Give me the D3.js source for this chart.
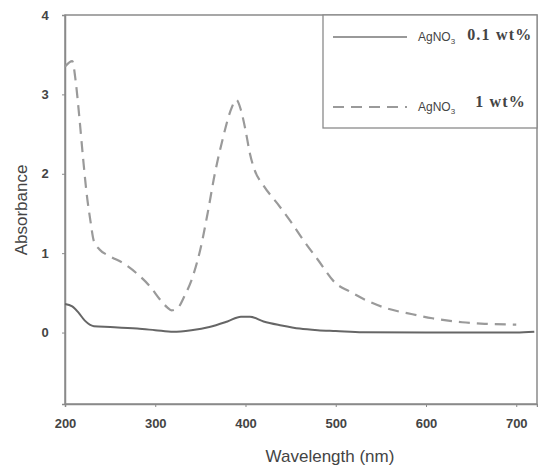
<!DOCTYPE html>
<html><head><meta charset="utf-8">
<script src="https://cdn.jsdelivr.net/npm/d3@7"></script>
<style>body{margin:0;background:#fff}svg{display:block}</style>
</head><body>
<svg id="c" width="538" height="470"></svg>
<script>
const wl01 = [200,208,215,222,232,250,280,300,320,340,360,380,395,405,420,440,460,480,500,530,600,700,720];
const abs01 = [0.36,0.33,0.25,0.15,0.08,0.07,0.05,0.03,0.01,0.03,0.07,0.14,0.2,0.2,0.14,0.09,0.05,0.03,0.02,0.005,0.0,0.0,0.01];
const wl1 = [200,208,212,216,220,224,228,232,238,250,265,280,295,305,313,318,325,332,342,350,358,366,375,383,390,395,400,405,410,420,435,450,465,480,500,515,535,555,585,607,640,665,700];
const abs1 = [3.35,3.42,3.15,2.7,2.2,1.75,1.42,1.15,1.05,0.96,0.87,0.74,0.57,0.42,0.32,0.28,0.31,0.45,0.72,1.05,1.5,2.0,2.45,2.78,2.93,2.8,2.55,2.25,2.05,1.85,1.63,1.4,1.15,0.92,0.62,0.52,0.4,0.31,0.23,0.18,0.13,0.11,0.1];
const xTicks = [200,300,400,500,600,700];
const yTicks = [0,1,2,3,4];
const seriesNames = ["AgNO", "AgNO"];
const seriesSuffix = ["0.1 wt%", "1 wt%"];

const svg = d3.select("#c");
const L = 65, R = 537, T = 15, B = 404;
const x = d3.scaleLinear().domain([200, 723]).range([L, R]);
const y = d3.scaleLinear().domain([-0.9, 4]).range([B, T]);
const axisCol = "#8a8a8a", txtCol = "#444";

svg.append("rect").attr("x", L).attr("y", T).attr("width", R - L).attr("height", B - T)
  .attr("fill", "none").attr("stroke", axisCol).attr("stroke-width", 1.5);

const xa = svg.append("g").attr("transform", `translate(0,${B})`)
  .call(d3.axisBottom(x).tickValues(xTicks).tickSize(3).tickFormat(d3.format("d")));
const ya = svg.append("g").attr("transform", `translate(${L},0)`)
  .call(d3.axisLeft(y).tickValues(yTicks).tickSize(3).tickFormat(d3.format("d")));
[xa, ya].forEach(a => {
  a.select(".domain").attr("stroke", axisCol).attr("stroke-width", 1.5);
  a.selectAll(".tick line").attr("stroke", axisCol);
  a.selectAll(".tick text").attr("fill", txtCol).attr("font-family", "Liberation Sans, Arial, sans-serif")
    .attr("font-size", 13).attr("font-weight", "bold");
});
xa.selectAll(".tick text").attr("dy", "1.35em");
ya.selectAll(".tick text").attr("dx", "-0.8em");

svg.append("text").attr("x", 330).attr("y", 462).attr("text-anchor", "middle")
  .attr("font-family", "Liberation Sans, Arial, sans-serif").attr("font-size", 17).attr("fill", txtCol)
  .text("Wavelength (nm)");
svg.append("text").attr("transform", "translate(27,210) rotate(-90)").attr("text-anchor", "middle")
  .attr("font-family", "Liberation Sans, Arial, sans-serif").attr("font-size", 17).attr("fill", txtCol)
  .text("Absorbance");

const line = d3.line().x(d => x(d[0])).y(d => y(d[1])).curve(d3.curveMonotoneX);
svg.append("path").datum(d3.zip(wl1, abs1)).attr("d", line).attr("fill", "none")
  .attr("stroke", "#9a9a9a").attr("stroke-width", 2.2).attr("stroke-dasharray", "11,7");
svg.append("path").datum(d3.zip(wl01, abs01)).attr("d", line).attr("fill", "none")
  .attr("stroke", "#666").attr("stroke-width", 2);

const lg = svg.append("g");
lg.append("rect").attr("x", 323).attr("y", T).attr("width", R - 323).attr("height", 113)
  .attr("fill", "#fff").attr("stroke", axisCol).attr("stroke-width", 1.3);
const legY = [37, 107];
const styles = [{c: "#777", w: 1.5, d: null}, {c: "#9a9a9a", w: 2, d: "11,7"}];
legY.forEach((ly, i) => {
  lg.append("line").attr("x1", 333).attr("x2", 407).attr("y1", ly).attr("y2", ly)
    .attr("stroke", styles[i].c).attr("stroke-width", styles[i].w).attr("stroke-dasharray", styles[i].d);
  const t = lg.append("text").attr("x", 418).attr("y", ly + 4).attr("fill", txtCol);
  t.append("tspan").attr("font-family", "Liberation Sans, Arial, sans-serif").attr("font-size", 12).text(seriesNames[i]);
  t.append("tspan").attr("font-family", "Liberation Sans, Arial, sans-serif").attr("font-size", 8).attr("dy", 3).text("3");
  t.append("tspan").attr("font-family", "Liberation Serif, Times New Roman, serif").attr("font-size", 16)
    .attr("font-weight", "bold").attr("letter-spacing", 1.2)
    .attr("dy", i === 0 ? -4 : -7).attr("dx", i === 0 ? 12 : 20).text(seriesSuffix[i]);
});
</script>
</body></html>
